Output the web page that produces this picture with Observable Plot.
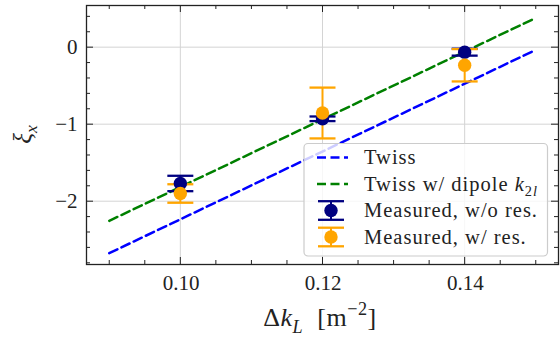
<!DOCTYPE html>
<html><head><meta charset="utf-8">
<script src="https://cdn.jsdelivr.net/npm/d3@7"></script>
<script src="https://cdn.jsdelivr.net/npm/@observablehq/plot@0.6"></script>
<style>body{margin:0;background:#fff} svg{display:block}</style>
</head><body><div id="chart"></div>
<script>
// ---- data ----
const xTwiss = [0.09, 0.15];
const twiss = [-2.675, -0.035];
const twissDipole = [-2.255, 0.38];
const measX = [0.10, 0.12, 0.14];
const measNoRes = [-1.77, -0.93, -0.065];
const errNoRes = [0.10, 0.03, 0.045];
const measRes = [-1.90, -0.855, -0.235];
const errRes = [0.12, 0.33, 0.21];
const xMajor = [0.10, 0.12, 0.14];
const xMinor = [0.09, 0.095, 0.105, 0.11, 0.115, 0.125, 0.13, 0.135, 0.145, 0.15];
const yMajor = [-2, -1, 0];
const yMinor = [-2.8, -2.6, -2.4, -2.2, -1.8, -1.6, -1.4, -1.2, -0.8, -0.6, -0.4, -0.2, 0.2, 0.4];

const FONT = "'Liberation Serif', 'Times New Roman', serif";
const W = 560, H = 338, ML = 86, MR = 2, MT = 5, MB = 74;
const FW = W - ML - MR, FH = H - MT - MB;

const lineData = (ys, name) => xTwiss.map((x, i) => ({x, y: ys[i], name}));
const measData = (ys, es) => measX.map((x, i) => ({x, y: ys[i], lo: ys[i] - es[i], hi: ys[i] + es[i]}));
const noRes = measData(measNoRes, errNoRes);
const withRes = measData(measRes, errRes);

const capSymbol = {draw(ctx, size) { const r = Math.sqrt(size / Math.PI); ctx.moveTo(-r, 0); ctx.lineTo(r, 0); }};
const fmtY = d => d === 0 ? "0" : (d < 0 ? "\u2212" : "") + Math.abs(d);

function errBars(data, color) {
  return [
    Plot.ruleX(data, {x: "x", y1: "lo", y2: "hi", stroke: color, strokeWidth: 2}),
    Plot.dot(data, {x: "x", y: "lo", symbol: capSymbol, r: 13, fill: "none", stroke: color, strokeWidth: 2.3}),
    Plot.dot(data, {x: "x", y: "hi", symbol: capSymbol, r: 13, fill: "none", stroke: color, strokeWidth: 2.3})
  ];
}
const markers = (data, color) => Plot.dot(data, {x: "x", y: "y", r: 6.7, fill: color, stroke: "none"});

const plot = Plot.plot({
  width: W, height: H,
  marginLeft: ML, marginRight: MR, marginTop: MT, marginBottom: MB,
  x: {domain: [0.0868, 0.1532], axis: null},
  y: {domain: [-2.822, 0.541], axis: null},
  style: {fontFamily: FONT, fontSize: "21px", background: "#fff", color: "#222"},
  marks: [
    Plot.ruleX(xMajor, {x: d => d, stroke: "#d4d4d4", strokeWidth: 1}),
    Plot.ruleY(yMajor, {y: d => d, stroke: "#d4d4d4", strokeWidth: 1}),
    // ticks (inward, all four sides)
    Plot.tickX(xMajor, {x: d => d, insetTop: FH - 7, stroke: "#222"}),
    Plot.tickX(xMajor, {x: d => d, insetBottom: FH - 7, stroke: "#222"}),
    Plot.tickX(xMinor, {x: d => d, insetTop: FH - 4, stroke: "#222"}),
    Plot.tickX(xMinor, {x: d => d, insetBottom: FH - 4, stroke: "#222"}),
    Plot.tickY(yMajor, {y: d => d, insetRight: FW - 7, stroke: "#222"}),
    Plot.tickY(yMajor, {y: d => d, insetLeft: FW - 7, stroke: "#222"}),
    Plot.tickY(yMinor, {y: d => d, insetRight: FW - 4, stroke: "#222"}),
    Plot.tickY(yMinor, {y: d => d, insetLeft: FW - 4, stroke: "#222"}),
    // tick labels
    Plot.text(xMajor, {x: d => d, frameAnchor: "bottom", dy: 19, text: d => d.toFixed(2), lineAnchor: "middle", fill: "#222", fontSize: 21, letterSpacing: 1.3, dx: 0.7}),
    Plot.text(yMajor, {y: d => d, frameAnchor: "left", dx: -9, textAnchor: "end", text: fmtY, lineAnchor: "middle", fill: "#222", fontSize: 21}),
    // lines
    Plot.line(lineData(twiss, "Twiss"), {x: "x", y: "y", stroke: "#0000ff", strokeWidth: 2.5, strokeDasharray: "9,4.5"}),
    Plot.line(lineData(twissDipole, "Twiss dipole"), {x: "x", y: "y", stroke: "#008000", strokeWidth: 2.5, strokeDasharray: "9,4.5"}),
    ...errBars(noRes, "#000080"),
    ...errBars(withRes, "#ffa500"),
    markers(noRes, "#000080"),
    markers(withRes, "#ffa500"),
    Plot.frame({stroke: "#222", strokeWidth: 1.3})
  ]
});
document.getElementById("chart").appendChild(plot);

// ---- labels and legend ----
const svg = d3.select(plot);
function richText(g, x, y, parts, size, anchor, ls) {
  const t = g.append("text").attr("x", x).attr("y", y).style("font-family", FONT)
    .attr("font-size", size).attr("fill", "#222").attr("text-anchor", anchor || "start");
  if (ls) t.attr("letter-spacing", ls);
  let shift = 0;
  parts.forEach(p => {
    const s = t.append("tspan").text(p.t);
    const target = p.sub ? size * 0.25 : p.sup ? -size * 0.42 : 0;
    if (target !== shift) { s.attr("dy", target - shift); shift = target; }
    if (p.i) s.attr("font-style", "italic");
    if (p.sub || p.sup) s.attr("font-size", size * 0.7);
  });
  return t;
}
// x label
richText(svg, ML + FW / 2 - 2, 326, [{t: "\u0394"}, {t: "k", i: true}, {t: "L", i: true, sub: true}, {t: "  [m"}, {t: "\u22122", sup: true}, {t: "]"}], 26, "middle", 0.5);
// y label
const gy = svg.append("g").attr("transform", `translate(31,${MT + FH / 2}) rotate(-90)`);
richText(gy, 0, 0, [{t: "\u03BE", i: true}, {t: "x", i: true, sub: true}], 25, "middle");

// legend
const lg = svg.append("g");
lg.append("rect").attr("x", 304).attr("y", 143.5).attr("width", 243.5).attr("height", 112.5)
  .attr("rx", 4).attr("fill", "#fff").attr("fill-opacity", 0.8).attr("stroke", "#cccccc").attr("stroke-width", 1.2);
const rows = [157.5, 184, 210.5, 237];
const hx0 = 317, hx1 = 348, hc = 331, tx = 364;
lg.append("line").attr("x1", hx0).attr("x2", hx1).attr("y1", rows[0]).attr("y2", rows[0])
  .attr("stroke", "#0000ff").attr("stroke-width", 2.5).attr("stroke-dasharray", "9,4.5");
lg.append("line").attr("x1", hx0).attr("x2", hx1).attr("y1", rows[1]).attr("y2", rows[1])
  .attr("stroke", "#008000").attr("stroke-width", 2.5).attr("stroke-dasharray", "9,4.5");
[[rows[2], "#000080"], [rows[3], "#ffa500"]].forEach(([y, c]) => {
  lg.append("line").attr("x1", hc).attr("x2", hc).attr("y1", y - 9.3).attr("y2", y + 9.3).attr("stroke", c).attr("stroke-width", 2);
  [-9.3, 9.3].forEach(o => lg.append("line").attr("x1", hc - 13).attr("x2", hc + 13).attr("y1", y + o).attr("y2", y + o).attr("stroke", c).attr("stroke-width", 2.3));
  lg.append("circle").attr("cx", hc).attr("cy", y).attr("r", 6.7).attr("fill", c);
});
const ldy = 6.5;
richText(lg, tx, rows[0] + ldy, [{t: "Twiss"}], 20.5, null, 1);
richText(lg, tx, rows[1] + ldy, [{t: "Twiss w/ dipole "}, {t: "k", i: true}, {t: "2", sub: true}, {t: "l", i: true, sub: true}], 20.5, null, 1);
richText(lg, tx, rows[2] + ldy, [{t: "Measured, w/o res."}], 20.5, null, 1);
richText(lg, tx, rows[3] + ldy, [{t: "Measured, w/ res."}], 20.5, null, 1);
</script>
</body></html>
